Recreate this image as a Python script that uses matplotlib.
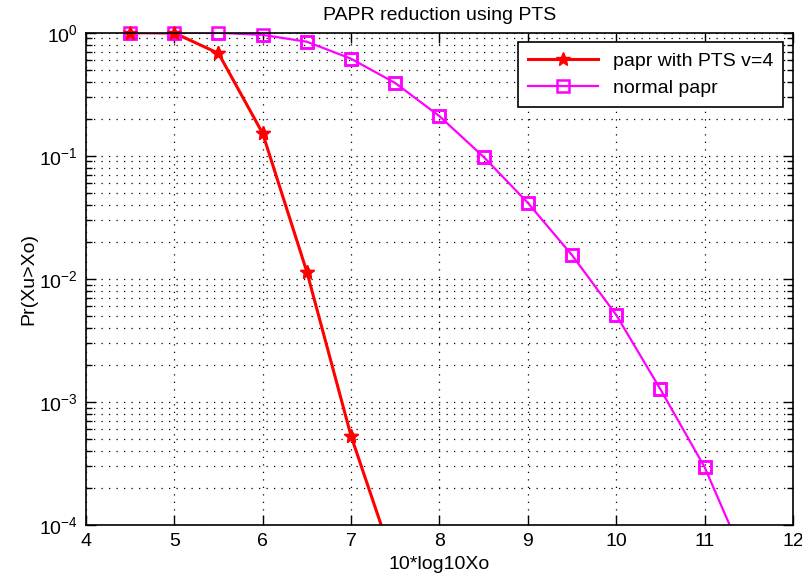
import numpy as np
import matplotlib
matplotlib.use("Agg")
import matplotlib.pyplot as plt
from matplotlib.ticker import LogLocator

plt.rcParams['font.family'] = ['Liberation Sans', 'DejaVu Sans']
plt.rcParams['mathtext.default'] = 'regular'

# PAPR threshold (dB)
x_pts = [4.5, 5.0, 5.5, 6.0, 6.5, 7.0, 7.5]
ccdf_pts = [1.0, 0.995, 0.68, 0.152, 0.0114, 5.3e-4, 4.6e-5]

x_norm = [4.5, 5.0, 5.5, 6.0, 6.5, 7.0, 7.5, 8.0, 8.5, 9.0, 9.5, 10.0, 10.5, 11.0, 11.5]
ccdf_norm = [1.0, 1.0, 0.999, 0.96, 0.845, 0.615, 0.39, 0.21, 0.098, 0.0415,
             0.0156, 0.0051, 0.00127, 2.96e-4, 4.4e-5]

ymin = 1e-4

fig = plt.figure(figsize=(8.03, 5.79), dpi=100)
ax = fig.add_axes([0.107, 0.093, 0.8805, 0.8505])

# lines (clipped at the axes) + markers (not clipped, so the ones at 1 show fully)
ax.semilogy(x_pts, ccdf_pts, color='red', lw=2.2, marker='*', ms=10,
            label='papr with PTS v=4')
ax.semilogy(x_norm, ccdf_norm, color='magenta', lw=1.6, marker='s', ms=9,
            mfc='none', mew=1.8, label='normal papr')

xn = [x for x, y in zip(x_norm, ccdf_norm) if y >= ymin]
yn = [y for y in ccdf_norm if y >= ymin]
ax.plot(xn, yn, ls='none', color='magenta', marker='s', ms=9, mfc='none',
        mew=1.8, clip_on=False)
xp = [x for x, y in zip(x_pts, ccdf_pts) if y >= ymin]
yp = [y for y in ccdf_pts if y >= ymin]
ax.plot(xp, yp, ls='none', color='red', marker='*', ms=10, clip_on=False)

ax.set_xlim(4, 12)
ax.set_ylim(ymin, 1)
ax.set_xticks(range(4, 13))
ax.yaxis.set_major_locator(LogLocator(base=10, numticks=10))
ax.yaxis.set_minor_locator(LogLocator(base=10, subs=np.arange(2, 10), numticks=20))

ax.grid(True, which='major', linestyle=(0, (1, 5)), color='black', lw=0.9)
ax.grid(True, which='minor', axis='y', linestyle=(0, (1, 5)), color='black', lw=0.9)

ax.tick_params(which='both', direction='in', top=True, right=True, labelsize=14)
ax.tick_params(which='major', length=7, width=1, pad=6)
ax.tick_params(which='minor', length=4, width=1)
for s in ax.spines.values():
    s.set_linewidth(1.2)

ax.set_title('PAPR reduction using PTS', fontsize=14, pad=9)
ax.set_xlabel('10*log10Xo', fontsize=14, labelpad=4)
ax.set_ylabel('Pr(Xu>Xo)', fontsize=14, labelpad=1)

leg = ax.legend(loc='upper right', fontsize=14, fancybox=False, framealpha=1,
                edgecolor='black', borderaxespad=0.5, handlelength=3.6,
                borderpad=0.5)
leg.get_frame().set_linewidth(1.2)

fig.savefig('out.png', dpi=100)
